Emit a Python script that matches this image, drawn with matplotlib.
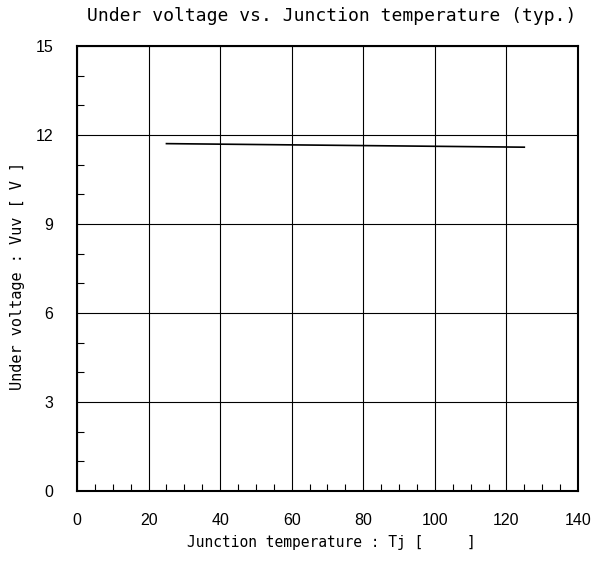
import matplotlib
matplotlib.use("Agg")
import matplotlib.pyplot as plt
from matplotlib.ticker import MultipleLocator

# data
temp = [25, 125]
uv = [11.71, 11.59]

x_ticks = [0, 20, 40, 60, 80, 100, 120, 140]
y_ticks = [0, 3, 6, 9, 12, 15]

mono = "DejaVu Sans Mono"
sans = "Liberation Sans"

fig = plt.figure(figsize=(5.95, 5.64), dpi=100)
ax = fig.add_axes([0.1294, 0.1294, 0.8420, 0.7890])

ax.plot(temp, uv, color="black", lw=1.2)

ax.set_xlim(0, 140)
ax.set_ylim(0, 15)
ax.set_xticks(x_ticks)
ax.set_yticks(y_ticks)
ax.xaxis.set_minor_locator(MultipleLocator(5))
ax.yaxis.set_minor_locator(MultipleLocator(1))
ax.tick_params(which="major", length=0, pad=16, labelsize=11.5)
ax.tick_params(axis="y", which="major", pad=17)
ax.tick_params(which="minor", direction="in", length=5, width=0.8)
for lab in ax.get_xticklabels() + ax.get_yticklabels():
    lab.set_fontfamily(sans)

ax.grid(True, which="major", color="black", lw=0.8)
for s in ax.spines.values():
    s.set_linewidth(1.5)

fig.text(0.557, 0.972, "Under voltage vs. Junction temperature (typ.)",
         ha="center", va="center", fontsize=13, family=mono)
fig.text(0.557, 0.038, "Junction temperature : Tj [     ]",
         ha="center", va="center", fontsize=10.5, family=mono)
fig.text(0.030, 0.51, "Under voltage : Vuv [ V ]",
         ha="center", va="center", rotation=90, fontsize=11, family=mono)

fig.savefig("out.png", dpi=100)
